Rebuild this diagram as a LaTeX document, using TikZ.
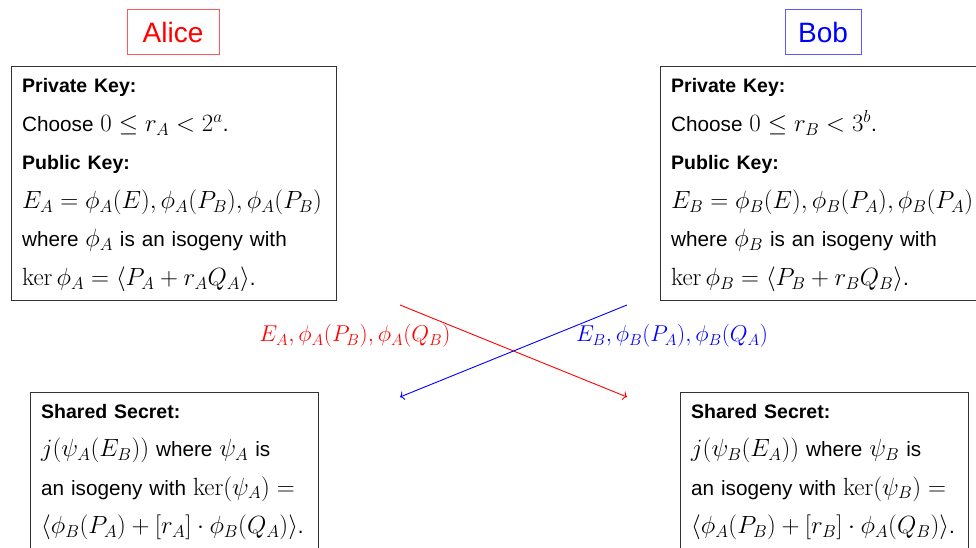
\documentclass[tikz,border=0pt]{standalone}
\usepackage[no-math]{fontspec}
\usepackage{graphicx}
\setmainfont{Liberation Sans}
\usetikzlibrary{arrows.meta}
% formulas set a little larger than the surrounding sans text
\DeclareMathSizes{20.7}{24}{16.8}{12}
\newcommand{\heading}[1]{{\fontsize{19.5}{38.5}\selectfont\bfseries #1}}
\newcommand{\msgmath}[1]{\scalebox{1.105}{$#1$}}

\tikzset{
  namebox/.style={draw, line width=0.9pt, minimum height=45pt, inner sep=0pt,
    font=\fontsize{28}{32}\selectfont},
  frame/.style={draw=black!80, line width=1pt, anchor=north west, inner sep=0pt},
  keytext/.style={anchor=base west, align=left, inner sep=0pt,
    font=\fontsize{20.7}{38.5}\selectfont},
  msg/.style={inner sep=0pt, font=\fontsize{21.9}{24}\selectfont},
  flow/.style={line width=0.9pt, -{To[length=4pt,width=9pt]}},
}

\begin{document}
\begin{tikzpicture}[x=1pt,y=-1pt]
\path[use as bounding box, clip] (0,0) rectangle (976,548);

% party names
\node[namebox, draw=red!65, text=red, minimum width=92pt] (alice) at (173,32) {Alice};
\node[namebox, draw=blue!65, text=blue, minimum width=76pt] (bob) at (823,32) {Bob};

% key generation boxes
\node[frame, minimum width=325pt, minimum height=234pt] (akeys) at (11,66) {};
\node[keytext, text width=310pt] (atext) at (22,93) {%
  \heading{Private Key:}\\
  Choose $0\le r_A<2^a$.\\
  \heading{Public Key:}\\
  $E_A=\phi_A(E),\phi_A(P_B),\phi_A(P_B)$\\
  where $\phi_A$ is an isogeny with\\
  $\ker\phi_A=\langle P_A+r_AQ_A\rangle$.};

\node[frame, minimum width=325pt, minimum height=234pt] (bkeys) at (660,66) {};
\node[keytext, text width=330pt] (btext) at (671,93) {%
  \heading{Private Key:}\\
  Choose $0\le r_B<3^b$.\\
  \heading{Public Key:}\\
  $E_B=\phi_B(E),\phi_B(P_A),\phi_B(P_A)$\\
  where $\phi_B$ is an isogeny with\\
  $\ker\phi_B=\langle P_B+r_BQ_B\rangle$.};

% shared secret boxes
\node[frame, minimum width=288pt, minimum height=162pt] (ashared) at (30,392) {};
\node[keytext, text width=285pt] (astext) at (41,418) {%
  \heading{Shared Secret:}\\
  $j(\psi_A(E_B))$ where $\psi_A$ is\\
  an isogeny with $\ker(\psi_A)=$\\
  $\langle\phi_B(P_A)+[r_A]\cdot\phi_B(Q_A)\rangle$.};

\node[frame, minimum width=288pt, minimum height=162pt] (bshared) at (680,392) {};
\node[keytext, text width=285pt] (bstext) at (691,418) {%
  \heading{Shared Secret:}\\
  $j(\psi_B(E_A))$ where $\psi_B$ is\\
  an isogeny with $\ker(\psi_B)=$\\
  $\langle\phi_A(P_B)+[r_B]\cdot\phi_A(Q_B)\rangle$.};

% exchanged public data
\coordinate (afrom) at (400,305);
\coordinate (ato) at (627,397);
\coordinate (bfrom) at (627,305);
\coordinate (bto) at (400,397);
\draw[flow, red] (afrom) -- (ato);
\draw[flow, blue] (bfrom) -- (bto);

\node[msg, text=red] (amsg) at (355,336) {\msgmath{E_A,\phi_A(P_B),\phi_A(Q_B)}};
\node[msg, text=blue] (bmsg) at (672,336) {\msgmath{E_B,\phi_B(P_A),\phi_B(Q_A)}};
\end{tikzpicture}
\end{document}
